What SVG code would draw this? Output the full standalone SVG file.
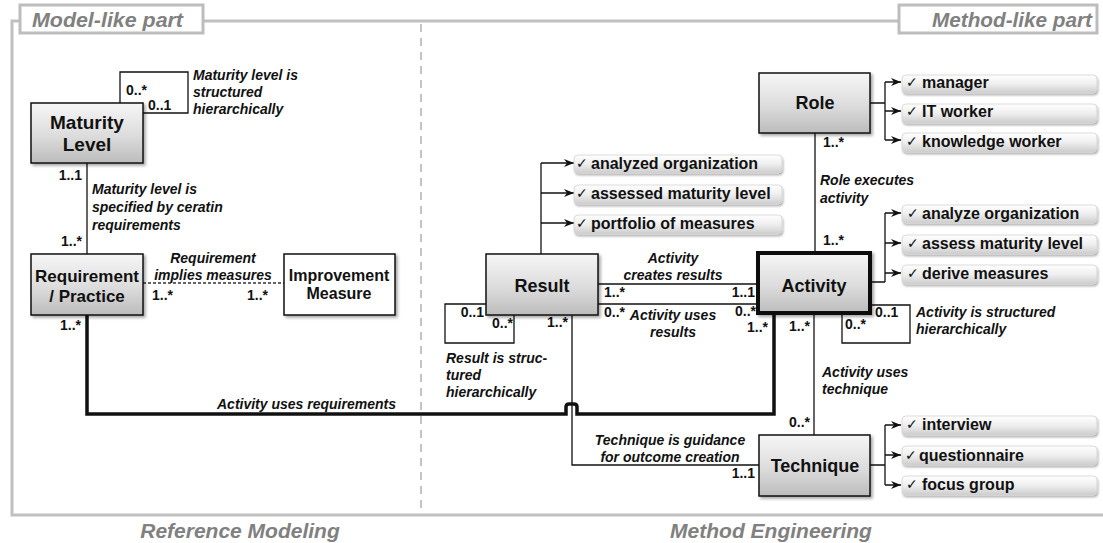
<svg xmlns="http://www.w3.org/2000/svg" width="1103" height="543" viewBox="0 0 1103 543">
  <defs>
    <linearGradient id="nodeGrad" x1="0" y1="0" x2="0" y2="1">
      <stop offset="0" stop-color="#f6f6f6"/>
      <stop offset="0.55" stop-color="#dcdcdc"/>
      <stop offset="1" stop-color="#bcbcbc"/>
    </linearGradient>
    <linearGradient id="itemGrad" x1="0" y1="0" x2="0" y2="1">
      <stop offset="0" stop-color="#ffffff"/>
      <stop offset="0.5" stop-color="#eeeeee"/>
      <stop offset="1" stop-color="#cdcdcd"/>
    </linearGradient>
    <filter id="shadow" x="-10%" y="-10%" width="125%" height="130%">
      <feDropShadow dx="2" dy="2" stdDeviation="1.5" flood-color="#000" flood-opacity="0.35"/>
    </filter>
    <filter id="softShadow" x="-5%" y="-20%" width="110%" height="160%">
      <feDropShadow dx="1" dy="2" stdDeviation="1.2" flood-color="#000" flood-opacity="0.3"/>
    </filter>
    <marker id="arr" markerWidth="10" markerHeight="10" refX="10" refY="5" orient="auto" markerUnits="userSpaceOnUse">
      <path d="M0,1 L10,5 L0,9 L3,5 z" fill="#111"/>
    </marker>
  </defs>
  <style>
    .frame { fill: none; stroke: #c0c0c0; stroke-width: 3; }
    .divider { fill: none; stroke: #c4c4c4; stroke-width: 2; stroke-dasharray: 8 6; }
    .tag rect { fill: #fff; stroke: #bdbdbd; stroke-width: 3; }
    .tag text, .area { font-family: "Liberation Sans", Arial, sans-serif; font-weight: bold; font-style: italic; font-size: 20px; fill: #808080; }
    .area { text-anchor: middle; font-size: 21px; }
    .node rect { fill: url(#nodeGrad); stroke: #111; stroke-width: 1.5; filter: url(#shadow); }
    .node rect.plain { fill: #fff; }
    .node rect.main { stroke-width: 4; }
    .node text { font-family: "Liberation Sans", Arial, sans-serif; font-weight: bold; font-size: 18px; fill: #111; text-anchor: middle; }
    .lbl { font-family: "Liberation Sans", Arial, sans-serif; font-weight: bold; font-style: italic; font-size: 14px; fill: #111; }
    .mid { text-anchor: middle; }
    .mul { font-family: "Liberation Sans", Arial, sans-serif; font-weight: bold; font-size: 14px; fill: #111; }
    .end { text-anchor: end; }
    .item rect { fill: url(#itemGrad); stroke: #d2d2d2; stroke-width: 0.8; filter: url(#softShadow); }
    .item text { font-family: "Liberation Sans", Arial, sans-serif; font-weight: bold; font-size: 16px; fill: #111; }
    .item text.chk { font-family: "DejaVu Sans", sans-serif; font-weight: bold; font-size: 14px; }
    .conn { fill: none; stroke: #111; stroke-width: 1.3; }
    .thick { stroke-width: 3.5; }
    .dash { stroke: #333; stroke-dasharray: 3 2; }
    .arrow { fill: none; stroke: #111; stroke-width: 1.5; marker-end: url(#arr); }
  </style>

  <!-- outer frame and split between the two parts -->
  <g id="frame">
    <path class="frame" d="M20,21 H12 V515 H1103"/>
    <path class="frame" d="M203,21 H899"/>
    <path class="divider" d="M421,24 V514"/>
    <g class="tag" id="tag-model">
      <rect x="20" y="5" width="183" height="28"/>
      <text x="32" y="27" textLength="151" lengthAdjust="spacingAndGlyphs">Model-like part</text>
    </g>
    <g class="tag" id="tag-method">
      <rect x="899" y="5" width="198" height="28"/>
      <text x="932" y="27" textLength="160" lengthAdjust="spacingAndGlyphs">Method-like part</text>
    </g>
    <text class="area" x="240" y="538">Reference Modeling</text>
    <text class="area" x="771" y="538">Method Engineering</text>
  </g>

  <!-- connectors -->
  <g id="connectors">
    <!-- Maturity level self relation -->
    <path class="conn" d="M120,103 V72 H188 V113 H143"/>
    <!-- Maturity level to requirement -->
    <path class="conn" d="M87,163 V254"/>
    <!-- Requirement implies measures -->
    <path class="conn dash" d="M143,283 H284"/>
    <!-- Technique guidance for result -->
    <path class="conn" d="M759,465 H572 V315"/>
    <!-- Activity uses requirements (with hop) -->
    <path class="conn thick" d="M87,315 V414 H566 V407 Q566,404 569,404 H574 Q577,404 577,407 V414 H774 V313"/>
    <!-- Result self relation -->
    <path class="conn" d="M486,304 H445 V343 H514 V315"/>
    <!-- Result / Activity -->
    <path class="conn" d="M598,284 H757"/>
    <path class="conn" d="M598,304 H757"/>
    <!-- Role executes activity -->
    <path class="conn" d="M815,133 V253"/>
    <!-- Activity uses technique -->
    <path class="conn" d="M814,313 V435"/>
    <!-- Activity self relation -->
    <path class="conn" d="M872,305 H910 V343 H842 V315"/>

    <!-- result examples -->
    <path class="conn" d="M541,254 V163"/>
    <path class="arrow" d="M541,163 H574"/>
    <path class="arrow" d="M541,193 H574"/>
    <path class="arrow" d="M541,223 H574"/>
    <!-- role examples -->
    <path class="conn" d="M870,103 H885 M885,82 V140"/>
    <path class="arrow" d="M885,82 H901"/>
    <path class="arrow" d="M885,111 H901"/>
    <path class="arrow" d="M885,140 H901"/>
    <!-- activity examples -->
    <path class="conn" d="M872,282 H885 M885,213 V282"/>
    <path class="arrow" d="M885,213 H901"/>
    <path class="arrow" d="M885,243 H901"/>
    <path class="arrow" d="M885,273 H901"/>
    <!-- technique examples -->
    <path class="conn" d="M870,465 H885 M885,425 V485"/>
    <path class="arrow" d="M885,425 H901"/>
    <path class="arrow" d="M885,455 H901"/>
    <path class="arrow" d="M885,485 H901"/>
  </g>

  <!-- connector labels -->
  <g id="labels">
    <text class="mul" x="126" y="95">0..*</text>
    <text class="mul" x="148" y="110">0..1</text>
    <text class="lbl" x="193" y="80">Maturity level is</text>
    <text class="lbl" x="193" y="97">structured</text>
    <text class="lbl" x="193" y="114">hierarchically</text>

    <text class="mul end" x="82" y="180">1..1</text>
    <text class="lbl" x="92" y="194">Maturity level is</text>
    <text class="lbl" x="92" y="212">specified by ceratin</text>
    <text class="lbl" x="92" y="230">requirements</text>
    <text class="mul end" x="82" y="246">1..*</text>

    <text class="lbl mid" x="213" y="263">Requirement</text>
    <text class="lbl mid" x="213" y="280">implies measures</text>
    <text class="mul" x="152" y="300">1..*</text>
    <text class="mul" x="247" y="300">1..*</text>
    <text class="mul end" x="81" y="330">1..*</text>

    <text class="lbl" x="217" y="409">Activity uses requirements</text>

    <text class="mul end" x="484" y="317">0..1</text>
    <text class="mul end" x="513" y="328">0..*</text>
    <text class="mul end" x="568" y="327">1..*</text>
    <text class="lbl" x="446" y="363">Result is struc-</text>
    <text class="lbl" x="446" y="380">tured</text>
    <text class="lbl" x="446" y="397">hierarchically</text>

    <text class="lbl mid" x="673" y="263">Activity</text>
    <text class="lbl mid" x="673" y="280">creates results</text>
    <text class="mul" x="604" y="297">1..*</text>
    <text class="mul end" x="755" y="297">1..1</text>
    <text class="mul" x="604" y="317">0..*</text>
    <text class="mul end" x="756" y="316">0..*</text>
    <text class="lbl mid" x="673" y="320">Activity uses</text>
    <text class="lbl mid" x="673" y="337">results</text>
    <text class="mul end" x="768" y="332">1..*</text>

    <text class="mul" x="823" y="147">1..*</text>
    <text class="lbl" x="820" y="185">Role executes</text>
    <text class="lbl" x="820" y="203">activity</text>
    <text class="mul" x="823" y="245">1..*</text>

    <text class="mul end" x="810" y="331">1..*</text>
    <text class="mul" x="875" y="317">0..1</text>
    <text class="mul" x="845" y="329">0..*</text>
    <text class="lbl" x="916" y="317">Activity is structured</text>
    <text class="lbl" x="916" y="334">hierarchically</text>

    <text class="lbl" x="822" y="377">Activity uses</text>
    <text class="lbl" x="822" y="394">technique</text>
    <text class="mul end" x="810" y="427">0..*</text>

    <text class="lbl mid" x="670" y="445">Technique is guidance</text>
    <text class="lbl mid" x="670" y="462">for outcome creation</text>
    <text class="mul end" x="755" y="478">1..1</text>
  </g>

  <!-- nodes -->
  <g id="maturity-level" class="node">
    <rect x="31" y="103" width="112" height="60"/>
    <text x="87" y="129" style="font-size:19px">Maturity</text>
    <text x="87" y="151" style="font-size:19px">Level</text>
  </g>
  <g id="requirement" class="node">
    <rect x="31" y="254" width="112" height="61"/>
    <text x="87" y="282" style="font-size:17px">Requirement</text>
    <text x="87" y="302" style="font-size:17px">/ Practice</text>
  </g>
  <g id="improvement-measure" class="node">
    <rect class="plain" x="284" y="254" width="111" height="61"/>
    <text x="339" y="281" style="font-size:16px">Improvement</text>
    <text x="339" y="299" style="font-size:16px">Measure</text>
  </g>
  <g id="result" class="node">
    <rect x="486" y="254" width="112" height="61"/>
    <text x="542" y="292">Result</text>
  </g>
  <g id="role" class="node">
    <rect x="759" y="73" width="111" height="60"/>
    <text x="815" y="109">Role</text>
  </g>
  <g id="activity" class="node">
    <rect class="main" x="758" y="253" width="112" height="60"/>
    <text x="814" y="292">Activity</text>
  </g>
  <g id="technique" class="node">
    <rect x="759" y="435" width="111" height="61"/>
    <text x="815" y="472">Technique</text>
  </g>

  <!-- example lists -->
  <g id="result-items" class="item">
    <rect x="574" y="155" width="208" height="18" rx="4"/>
    <rect x="574" y="185" width="208" height="19" rx="4"/>
    <rect x="574" y="215" width="208" height="19" rx="4"/>
    <text class="chk" x="576" y="168">✓</text>
    <text x="591" y="169">analyzed organization</text>
    <text class="chk" x="576" y="198">✓</text>
    <text x="591" y="199">assessed maturity level</text>
    <text class="chk" x="576" y="228">✓</text>
    <text x="591" y="229">portfolio of measures</text>
  </g>
  <g id="role-items" class="item">
    <rect x="902" y="75" width="195" height="18" rx="4"/>
    <rect x="902" y="104" width="195" height="19" rx="4"/>
    <rect x="902" y="133" width="195" height="19" rx="4"/>
    <text class="chk" x="906" y="87">✓</text>
    <text x="922" y="88">manager</text>
    <text class="chk" x="906" y="116">✓</text>
    <text x="922" y="117">IT worker</text>
    <text class="chk" x="906" y="146">✓</text>
    <text x="922" y="147">knowledge worker</text>
  </g>
  <g id="activity-items" class="item">
    <rect x="902" y="205" width="195" height="18" rx="4"/>
    <rect x="902" y="235" width="195" height="19" rx="4"/>
    <rect x="902" y="265" width="195" height="19" rx="4"/>
    <text class="chk" x="907" y="218">✓</text>
    <text x="922" y="219">analyze organization</text>
    <text class="chk" x="907" y="248">✓</text>
    <text x="922" y="249">assess maturity level</text>
    <text class="chk" x="907" y="278">✓</text>
    <text x="922" y="279">derive measures</text>
  </g>
  <g id="technique-items" class="item">
    <rect x="902" y="416" width="195" height="19" rx="4"/>
    <rect x="902" y="446" width="195" height="19" rx="4"/>
    <rect x="902" y="476" width="195" height="19" rx="4"/>
    <text class="chk" x="906" y="429">✓</text>
    <text x="922" y="430">interview</text>
    <text class="chk" x="905" y="460">✓</text>
    <text x="919" y="461">questionnaire</text>
    <text class="chk" x="906" y="489">✓</text>
    <text x="922" y="490">focus group</text>
  </g>
</svg>
